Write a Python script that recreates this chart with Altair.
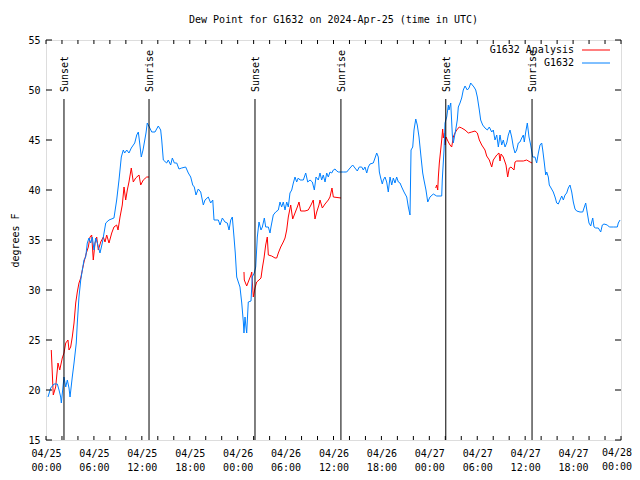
import altair as alt
import pandas as pd

# ---- data (hours since 2024-04-25 00:00 UTC, dew point in F) ----
blue_h = [0.25, 0.59, 1.00, 1.42, 1.63, 1.84, 1.92, 2.25, 2.47, 2.67, 2.88, 3.01, 3.29, 3.51, 3.79, 3.92,
          4.13, 4.35, 4.55, 4.76, 4.97, 5.17, 5.38, 5.60, 5.80, 6.01, 6.22, 6.42, 6.76, 7.05, 7.48, 7.89,
          8.51, 8.85, 9.14, 9.43, 9.68, 9.85, 10.11, 10.39, 10.68, 11.11, 11.36, 11.56, 11.73, 11.93, 12.15,
          12.52, 12.68, 12.94, 13.24, 13.65, 14.06, 14.36, 14.49, 14.69, 15.11, 15.31, 15.61, 15.82, 16.07,
          16.37, 16.65, 16.99, 17.49, 17.82, 18.12, 18.37, 18.57, 18.78, 19.07, 19.37, 19.70, 19.91, 20.32,
          20.62, 20.88, 21.04, 21.58, 21.79, 22.08, 22.41, 22.70, 22.92, 23.13, 23.33, 23.54, 23.70, 23.88,
          24.08, 24.29, 24.51, 24.71, 24.79, 24.92, 25.04, 25.13, 25.33, 25.67, 25.83, 26.08, 26.26, 26.46,
          26.67, 26.92, 27.09, 27.34, 27.51, 27.84, 28.05, 28.17, 28.46, 28.76, 29.09, 29.30, 29.51, 29.71,
          29.93, 30.14, 30.34, 30.55, 30.77, 30.97, 31.18, 31.39, 31.59, 31.81, 32.22, 32.52, 32.77, 33.06,
          33.35, 33.60, 33.81, 34.10, 34.31, 34.52, 34.72, 34.94, 35.15, 35.35, 35.56, 35.78, 35.98, 36.19,
          36.40, 36.60, 37.23, 37.65, 38.07, 38.40, 38.69, 38.98, 39.23, 39.53, 39.73, 39.94, 40.16, 40.36,
          40.57, 40.98, 41.20, 41.41, 41.61, 41.74, 41.91, 42.11, 42.24, 42.45, 42.66, 42.86, 43.08, 43.29,
          43.49, 43.70, 43.91, 44.12, 44.33, 44.54, 44.83, 45.17, 45.37, 45.58, 45.71, 45.92, 46.08, 46.30,
          46.49, 46.71, 46.96, 47.17, 47.33, 47.58, 47.80, 48.08, 48.50, 48.92, 49.55, 49.62, 49.84, 49.96,
          50.18, 50.38, 50.46, 50.68, 50.88, 51.00, 51.30, 51.50, 51.63, 51.84, 52.05, 52.25, 52.47, 52.75,
          52.97, 53.18, 53.38, 53.59, 53.81, 54.01, 54.26, 54.43, 54.68, 54.97, 55.26, 55.51, 55.81, 56.01,
          56.22, 56.44, 56.64, 56.85, 57.06, 57.26, 57.48, 57.69, 57.89, 58.10, 58.31, 58.52, 58.73, 58.94,
          59.14, 59.35, 59.57, 59.77, 59.89, 60.07, 60.27, 60.48, 60.69, 60.94, 61.23, 61.44, 61.65, 61.86,
          62.07, 62.20, 62.40, 62.57, 62.70, 62.90, 63.02, 63.24, 63.52, 63.74, 63.95, 64.15, 64.36, 64.58,
          64.78, 64.99, 65.20, 65.40, 65.61, 65.83, 66.03, 66.24, 66.45, 66.87, 67.21, 67.37, 67.58, 67.78,
          67.99, 68.21, 68.46, 68.62, 68.83, 69.16, 69.46, 69.66, 69.87, 70.29, 70.54, 71.04, 71.54, 71.66,
          71.88]
blue_v = [19.3, 20.2, 20.6, 20.6, 20.0, 19.3, 18.7, 21.3, 20.3, 21.0, 20.2, 19.3, 21.3, 22.7, 24.7, 26.7,
          29.3, 31.0, 32.0, 33.0, 33.3, 34.7, 35.2, 34.7, 35.3, 34.0, 35.2, 34.7, 33.7, 34.7, 36.7, 37.0,
          37.2, 39.0, 41.0, 43.3, 44.0, 43.7, 44.0, 43.7, 44.2, 44.7, 45.5, 45.8, 44.7, 43.3, 44.0,
          45.7, 46.7, 46.3, 45.8, 45.8, 46.4, 46.0, 45.0, 43.0, 42.7, 43.0, 42.5, 43.2, 42.7,
          42.7, 42.1, 42.2, 42.3, 41.7, 41.3, 40.5, 40.3, 39.5, 40.1, 39.8, 38.5, 39.0, 39.3,
          38.7, 39.0, 37.0, 37.0, 36.5, 37.2, 36.8, 36.7, 36.0, 37.0, 37.3, 35.3, 33.7, 31.3,
          30.8, 30.3, 28.7, 26.8, 25.7, 27.3, 26.3, 25.7, 28.8, 28.9, 31.3, 31.7, 32.3, 35.3,
          36.8, 36.0, 36.3, 37.2, 36.3, 36.3, 35.7, 36.3, 37.5, 37.8, 38.0, 38.8, 38.3, 38.8,
          38.0, 38.8, 38.3, 39.7, 40.0, 40.7, 41.3, 40.8, 41.2, 41.0, 41.0, 41.7, 40.8, 41.0,
          40.8, 40.0, 41.3, 41.0, 41.7, 41.0, 41.5, 40.8, 41.7, 41.3, 41.8, 41.7, 42.0, 42.1,
          41.9, 41.8, 41.8, 41.8, 42.2, 42.5, 42.2, 41.9, 42.3, 42.3, 42.0, 42.3, 41.7, 42.3,
          42.6, 42.7, 43.2, 43.7, 43.3, 41.8, 41.2, 40.6, 41.0, 41.3, 40.8, 39.8, 41.3, 40.5,
          41.2, 40.7, 41.3, 40.8, 40.7, 40.3, 39.8, 39.3, 38.3, 37.5, 44.0, 44.3, 46.0, 47.1,
          46.5, 45.3, 43.3, 41.7, 41.0, 40.0, 38.8, 39.3, 39.6, 39.4, 39.4, 41.0, 44.0, 46.7,
          47.3, 48.5, 48.0, 48.7, 45.5, 44.7, 46.0, 47.0, 48.3, 48.7, 49.2, 50.0, 50.4, 50.0,
          50.2, 50.7, 50.5, 50.3, 50.0, 49.3, 48.0, 47.0, 46.5, 46.2, 46.0, 46.3, 45.8, 46.0,
          45.0, 45.5, 44.3, 45.5, 44.5, 45.0, 44.3, 44.7, 45.5, 46.0, 45.3, 44.3, 43.7, 44.0,
          44.7, 44.8, 45.2, 45.5, 44.8, 45.8, 46.7, 45.3, 44.5, 43.3, 43.3, 42.7, 43.7, 44.5,
          44.7, 44.0, 42.7, 41.5, 41.8, 41.3, 40.5, 40.2, 39.8, 39.3, 38.7, 38.6, 39.0, 39.4,
          39.0, 39.5, 39.7, 40.2, 40.5, 39.8, 38.8, 38.1, 37.9, 37.8, 37.8, 38.2, 38.7, 37.7,
          36.7, 36.4, 37.2, 36.3, 36.2, 36.2, 35.8, 36.5, 36.6, 36.5, 36.3, 36.3, 36.3, 36.7,
          37.0]

red1_h = [0.66, 0.91, 1.21, 1.50, 1.72, 2.04, 2.25, 2.47, 2.75, 2.88, 3.09, 3.29, 3.51, 3.72, 3.92, 4.13,
          4.35, 4.55, 4.76, 5.05, 5.30, 5.51, 5.72, 5.92, 6.14, 6.35, 6.55, 6.85, 7.18, 7.39, 7.60, 7.89,
          8.23, 8.51, 8.85, 9.02, 9.27, 9.55, 9.77, 9.98, 10.18, 10.39, 10.68, 10.93, 11.23, 11.65, 11.86,
          12.18, 12.61, 12.90]
red1_v = [24.0, 19.5, 20.3, 22.7, 22.0, 23.2, 23.7, 24.7, 25.0, 24.0, 24.3, 25.3, 26.7, 28.7, 29.8, 30.7,
          31.2, 32.0, 32.8, 33.7, 34.3, 35.3, 35.5, 33.0, 34.7, 35.3, 34.0, 34.8, 35.3, 34.8, 35.5, 34.7,
          35.7, 36.3, 36.5, 36.0, 37.3, 38.5, 40.3, 39.0, 40.0, 40.8, 42.2, 40.8, 41.2, 41.5, 40.5,
          41.0, 41.3, 41.3]
red2_h = [24.79, 24.83, 25.13, 25.42, 25.67, 25.76, 25.96, 26.17, 26.38, 26.67, 26.92, 27.09, 27.30, 27.51,
          27.71, 27.84, 28.26, 28.68, 28.89, 29.09, 29.39, 29.71, 29.93, 30.14, 30.34, 30.64, 30.89, 31.18,
          31.47, 31.68, 31.89, 32.43, 32.84, 33.18, 33.47, 33.68, 33.90, 34.18, 34.31, 34.60, 34.94, 35.35,
          35.56, 35.81, 35.98, 36.94]
red2_v = [31.8, 31.0, 30.4, 31.0, 31.5, 31.8, 29.3, 30.2, 30.8, 31.0, 31.2, 32.2, 33.2, 34.5,
          35.3, 33.5, 33.4, 33.2, 33.2, 33.7, 34.3, 34.8, 35.2, 36.0, 37.3, 38.5, 37.1, 37.7,
          38.3, 38.8, 37.9, 37.9, 38.0, 38.5, 39.0, 37.1, 37.8, 38.5, 39.0, 38.2, 38.6, 39.0,
          39.3, 40.2, 39.3, 39.2]
red3_h = [48.80, 48.92, 49.05, 49.13, 49.25, 49.42, 49.55, 49.67, 49.75, 49.88, 49.96, 50.09, 50.38, 50.59,
          50.80, 51.00, 51.21, 51.43, 51.75, 52.05, 52.47, 52.88, 53.31, 53.72, 54.01, 54.26, 54.56, 54.97,
          55.18, 55.51, 55.81, 56.01, 56.44, 56.72, 56.85, 56.98, 57.26, 57.60, 57.81, 58.01, 58.23, 58.60,
          58.73, 58.94, 59.77, 60.19, 60.61, 60.86]
red3_v = [40.2, 40.5, 40.0, 41.3, 42.7, 44.0, 45.0, 46.1, 45.2, 45.7, 44.5, 45.3, 44.8, 44.5,
          44.3, 45.3, 45.7, 46.0, 46.3, 46.2, 46.0, 45.7, 45.8, 45.9, 45.7, 45.0, 44.5, 44.0,
          43.4, 43.0, 42.3, 43.0, 43.5, 43.7, 42.9, 43.6, 43.3, 42.5, 41.3, 42.2, 42.3, 42.0,
          42.8, 42.9, 42.9, 43.0, 42.8, 42.7]

sun_hours = [2.25, 12.90, 26.17, 36.93, 50.06, 60.86]
sun_labels = ["Sunset", "Sunrise", "Sunset", "Sunrise", "Sunset", "Sunrise"]

x_label_hours = [0, 6, 12, 18, 24, 30, 36, 42, 48, 54, 60, 66, 72]
x_label_dates = ["04/25", "04/25", "04/25", "04/25", "04/26", "04/26", "04/26", "04/26",
                 "04/27", "04/27", "04/27", "04/27", "04/28"]
x_label_times = ["00:00", "06:00", "12:00", "18:00", "00:00", "06:00", "12:00", "18:00",
                 "00:00", "06:00", "12:00", "18:00", "00:00"]
x_tick_hours = list(range(0, 73, 2))
y_ticks = [15, 20, 25, 30, 35, 40, 45, 50, 55]

legend_names = ["G1632 Analysis", "G1632"]
RED = "#ff0000"
BLUE = "#0080ff"
FONT = "DejaVu Sans Mono"

# ---- frames ----
blue_df = pd.DataFrame({"h": blue_h, "v": blue_v})
red_df = pd.concat([
    pd.DataFrame({"h": red1_h, "v": red1_v, "seg": 1}),
    pd.DataFrame({"h": red2_h, "v": red2_v, "seg": 2}),
    pd.DataFrame({"h": red3_h, "v": red3_v, "seg": 3}),
])
sun_df = pd.DataFrame({"h": sun_hours, "label": sun_labels})
xt_df = pd.DataFrame({"h": x_tick_hours})
yt_df = pd.DataFrame({"v": y_ticks})
last_df = pd.DataFrame({"h": [x_label_hours[-1]], "d": [x_label_dates[-1]], "t": [x_label_times[-1]]})

W, H = 575, 400
dates_js = "[" + ",".join('"%s"' % d for d in x_label_dates) + "]"
times_js = "[" + ",".join('"%s"' % t for t in x_label_times) + "]"

xscale = alt.Scale(domain=[0, 72], nice=False, zero=False)
yscale = alt.Scale(domain=[15, 55], nice=False, zero=False)

x_axis = alt.Axis(values=x_label_hours[:-1], ticks=False, domain=False, grid=False,
                  labelExpr=f"[{dates_js}[round(datum.value/6)], {times_js}[round(datum.value/6)]]",
                  labelFont=FONT, labelFontSize=10, labelColor="black", labelPadding=8,
                  labelLineHeight=14, labelAngle=0, title=None, labelFlush=False, labelOverlap=False)
y_axis = alt.Axis(values=y_ticks, ticks=False, domain=False, grid=False,
                  labelFont=FONT, labelFontSize=10, labelColor="black", labelPadding=6,
                  title="degrees F", titleFont=FONT, titleFontSize=10, titleFontWeight="normal",
                  titleColor="black", titlePadding=7)

base_x = alt.X("h:Q", scale=xscale, axis=x_axis)
base_y = alt.Y("v:Q", scale=yscale, axis=y_axis)

red_line = alt.Chart(red_df).mark_line(color=RED, strokeWidth=1).encode(
    x=base_x, y=base_y, detail="seg:N")
blue_line = alt.Chart(blue_df).mark_line(color=BLUE, strokeWidth=1).encode(
    x=alt.X("h:Q", scale=xscale), y=alt.Y("v:Q", scale=yscale))

sun_rule = alt.Chart(sun_df).mark_rule(color="black", strokeWidth=1).encode(
    x=alt.X("h:Q", scale=xscale), y=alt.value(59), y2=alt.value(H))
sun_text = alt.Chart(sun_df).mark_text(angle=270, align="left", baseline="middle",
                                       font=FONT, fontSize=10, color="black", dx=0, dy=1).encode(
    x=alt.X("h:Q", scale=xscale), y=alt.value(52), text="label:N")

# last x label (kept inside the page)
last_d = alt.Chart(last_df).mark_text(align="right", baseline="top", font=FONT, fontSize=10,
                                      color="black", dx=11).encode(
    x=alt.X("h:Q", scale=xscale), y=alt.value(H + 8), text="d:N")
last_t = alt.Chart(last_df).mark_text(align="right", baseline="top", font=FONT, fontSize=10,
                                      color="black", dx=11).encode(
    x=alt.X("h:Q", scale=xscale), y=alt.value(H + 22), text="t:N")

xt_bottom = alt.Chart(xt_df).mark_rule(color="black", strokeWidth=1).encode(
    x=alt.X("h:Q", scale=xscale), y=alt.value(H), y2=alt.value(H - 4))
xt_top = alt.Chart(xt_df).mark_rule(color="black", strokeWidth=1).encode(
    x=alt.X("h:Q", scale=xscale), y=alt.value(0), y2=alt.value(4))
yt_left = alt.Chart(yt_df).mark_rule(color="black", strokeWidth=1).encode(
    y=alt.Y("v:Q", scale=yscale), x=alt.value(0), x2=alt.value(6))
yt_right = alt.Chart(yt_df).mark_rule(color="black", strokeWidth=1).encode(
    y=alt.Y("v:Q", scale=yscale), x=alt.value(W - 6), x2=alt.value(W))

leg_df = pd.DataFrame({"name": legend_names, "row": [0, 1]})
leg_text1 = alt.Chart(leg_df.iloc[[0]]).mark_text(align="right", baseline="middle", font=FONT,
                                                  fontSize=10, color="black").encode(
    x=alt.value(528), y=alt.value(10), text="name:N")
leg_text2 = alt.Chart(leg_df.iloc[[1]]).mark_text(align="right", baseline="middle", font=FONT,
                                                  fontSize=10, color="black").encode(
    x=alt.value(528), y=alt.value(23), text="name:N")
leg_line1 = alt.Chart(leg_df.iloc[[0]]).mark_rule(color=RED, strokeWidth=1).encode(
    x=alt.value(536), x2=alt.value(564), y=alt.value(10))
leg_line2 = alt.Chart(leg_df.iloc[[1]]).mark_rule(color=BLUE, strokeWidth=1).encode(
    x=alt.value(536), x2=alt.value(564), y=alt.value(23))

chart = alt.layer(
    red_line, blue_line, sun_rule, sun_text, last_d, last_t,
    xt_bottom, xt_top, yt_left, yt_right,
    leg_line1, leg_line2, leg_text1, leg_text2,
).properties(
    width=W, height=H,
    title=alt.TitleParams("Dew Point for G1632 on 2024-Apr-25 (time in UTC)", font=FONT,
                          fontSize=10, fontWeight="normal", color="black", offset=10, anchor="middle"),
    autosize=alt.AutoSizeParams(type="none"),
    padding={"left": 38, "top": 32, "right": 11, "bottom": 32},
).configure_view(stroke="black", strokeWidth=1).configure(background="white")

chart.save("out.html", embed_options={"renderer": "svg", "actions": False})
